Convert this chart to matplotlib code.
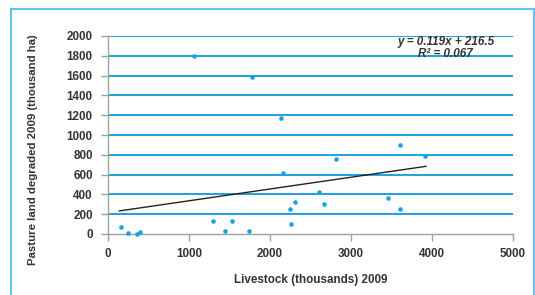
import numpy as np
import matplotlib
matplotlib.use("Agg")
import matplotlib.pyplot as plt
from matplotlib.patches import Rectangle

# livestock (thousands) vs pasture land degraded (thousand ha), 2009
livestock = [160, 251, 354, 395, 1066, 1292, 1440, 1535, 1745, 1778,
             2132, 2156, 2243, 2255, 2309, 2602, 2672, 2817, 3453, 3606,
             3606, 3916]
degraded = [74, 13, 3, 17, 1800, 128, 27, 128, 30, 1583,
            1168, 619, 249, 104, 323, 429, 308, 759, 368, 901,
            250, 783]

# linear trend shown on the chart
slope = 0.119
intercept = 216.5
r2 = 0.067

xticks = [0, 1000, 2000, 3000, 4000, 5000]
yticks = list(range(0, 2001, 200))

blue = "#1aa3e0"
text_col = "#333333"
fs = 8.4

plt.rcParams["font.family"] = ["Liberation Sans", "DejaVu Sans"]

fig = plt.figure(figsize=(5.35, 2.95), dpi=100)
ax = fig.add_axes([108 / 535, 1 - 234 / 295, 405 / 535, 198 / 295])

# light blue frame around the figure
fig.patches.append(Rectangle((11 / 535, -0.05), 523 / 535, 1 - 9 / 295 + 0.05,
                             transform=fig.transFigure, fill=False,
                             edgecolor="#5ec2f2", linewidth=1.5))

ax.set_xlim(0, 5000)
ax.set_ylim(0, 2000)
ax.set_xticks(xticks)
ax.set_yticks(yticks)

for yv in yticks[1:]:
    ax.axhline(yv, color=blue, linewidth=1.4, zorder=1)

ax.plot(livestock, degraded, "o", color=blue, markersize=3.3,
        markeredgewidth=0, zorder=3, clip_on=False)

xs = np.array([min(livestock) - 20, max(livestock) + 10])
ax.plot(xs, slope * xs + intercept, color="#222222", linewidth=1.0, zorder=2)

for s in ["top", "right"]:
    ax.spines[s].set_visible(False)
for s in ["left", "bottom"]:
    ax.spines[s].set_color("#a0a0a0")
    ax.spines[s].set_linewidth(1.0)

ax.tick_params(axis="both", colors="#a0a0a0", length=5, width=1.0,
               labelcolor=text_col, labelsize=fs)
ax.tick_params(axis="x", pad=5)
ax.tick_params(axis="y", pad=6)
for lab in ax.get_xticklabels() + ax.get_yticklabels():
    lab.set_fontweight("bold")

ax.set_xlabel("Livestock (thousands) 2009", fontsize=fs, fontweight="bold",
              color=text_col, labelpad=10)
ax.set_ylabel("Pasture land degraded 2009 (thousand ha)", fontsize=8.2,
              fontweight="bold", color=text_col)
ax.yaxis.set_label_coords(-0.174, 0.424)

ax.text(4170, 1875, f"y = {slope}x + {intercept}\nR² = {r2}", ha="center",
        va="center", fontsize=fs, fontstyle="italic", fontweight="bold",
        color=text_col, linespacing=1.0)

fig.savefig("out.png", dpi=100)
